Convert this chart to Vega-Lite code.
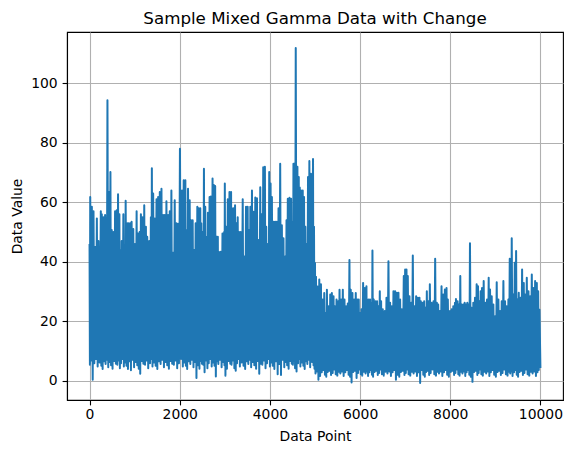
{
  "$schema": "https://vega.github.io/schema/vega-lite/v6.json",
  "width": 496,
  "height": 368,
  "autosize": "none",
  "padding": {"left": 67, "top": 32, "right": 9, "bottom": 54},
  "background": "white",
  "title": {
    "text": "Sample Mixed Gamma Data with Change",
    "font": "DejaVu Sans",
    "fontSize": 16.7,
    "fontWeight": "normal",
    "color": "black",
    "baseline": "alphabetic",
    "offset": 8,
    "dy": 16.5
  },
  "config": {
    "view": {"stroke": "black", "strokeWidth": 1.1},
    "axis": {
      "domainColor": "black",
      "domainWidth": 1.1,
      "tickColor": "black",
      "tickWidth": 1.1,
      "tickSize": 4.9,
      "labelFont": "DejaVu Sans",
      "labelFontSize": 13.9,
      "labelColor": "black",
      "labelPadding": 3,
      "labelFlush": false,
      "labelOverlap": false,
      "titleFont": "DejaVu Sans",
      "titleFontSize": 13.9,
      "titleFontWeight": "normal",
      "titleColor": "black",
      "gridColor": "#b0b0b0",
      "gridWidth": 1.1,
      "gridOpacity": 1
    }
  },
  "data": {
    "values": [
      {"x":0,"y":46},{"x":8,"y":5.4},{"x":15,"y":61.8},{"x":33,"y":6.8},{"x":51,"y":58.5},{"x":70,"y":0.3},{"x":88,"y":57},{"x":106,"y":5.9},{"x":125,"y":45},{"x":143,"y":7.3},
      {"x":162,"y":54.6},{"x":180,"y":4.8},{"x":198,"y":47},{"x":224,"y":6.1},{"x":250,"y":57},{"x":261,"y":5.0},{"x":272,"y":56},{"x":290,"y":3.9},{"x":309,"y":55},{"x":327,"y":6.5},
      {"x":345,"y":55.7},{"x":356,"y":5.6},{"x":368,"y":54.5},{"x":382,"y":7.0},{"x":397,"y":94.3},{"x":415,"y":4.5},{"x":434,"y":63.5},{"x":448,"y":6.3},{"x":463,"y":70.2},{"x":477,"y":5.2},
      {"x":492,"y":50.7},{"x":510,"y":4.0},{"x":529,"y":50},{"x":547,"y":6.6},{"x":566,"y":57},{"x":584,"y":5.7},{"x":603,"y":57.3},{"x":617,"y":5.4},{"x":632,"y":62.7},{"x":647,"y":6.8},
      {"x":662,"y":56},{"x":673,"y":4.2},{"x":684,"y":44},{"x":698,"y":5.9},{"x":713,"y":47},{"x":731,"y":7.3},{"x":750,"y":56},{"x":761,"y":4.8},{"x":772,"y":40.6},{"x":786,"y":6.1},
      {"x":801,"y":60.5},{"x":819,"y":5.0},{"x":838,"y":53},{"x":852,"y":3.9},{"x":867,"y":53},{"x":885,"y":6.5},{"x":904,"y":53},{"x":918,"y":3.5},{"x":933,"y":53.5},{"x":951,"y":7.0},
      {"x":970,"y":51},{"x":988,"y":4.5},{"x":1007,"y":46},{"x":1025,"y":6.3},{"x":1044,"y":57},{"x":1058,"y":5.2},{"x":1073,"y":49.5},{"x":1091,"y":4.0},{"x":1110,"y":50},{"x":1124,"y":2.3},
      {"x":1139,"y":56},{"x":1157,"y":6.6},{"x":1176,"y":55},{"x":1194,"y":5.7},{"x":1213,"y":59},{"x":1231,"y":5.4},{"x":1250,"y":51.8},{"x":1264,"y":6.8},{"x":1279,"y":48.4},{"x":1301,"y":4.2},
      {"x":1323,"y":47},{"x":1341,"y":5.9},{"x":1360,"y":55},{"x":1371,"y":7.3},{"x":1382,"y":71.5},{"x":1396,"y":4.8},{"x":1411,"y":63},{"x":1429,"y":6.1},{"x":1448,"y":54.6},{"x":1466,"y":5.0},
      {"x":1485,"y":61},{"x":1503,"y":3.9},{"x":1521,"y":61.8},{"x":1539,"y":6.5},{"x":1558,"y":63.5},{"x":1576,"y":5.6},{"x":1595,"y":64.6},{"x":1613,"y":7.0},{"x":1632,"y":55.7},{"x":1650,"y":4.5},
      {"x":1668,"y":55.7},{"x":1686,"y":6.3},{"x":1705,"y":60.4},{"x":1723,"y":5.2},{"x":1742,"y":55.7},{"x":1760,"y":4.0},{"x":1779,"y":57},{"x":1797,"y":6.6},{"x":1815,"y":64},{"x":1833,"y":5.7},
      {"x":1852,"y":43},{"x":1870,"y":5.4},{"x":1889,"y":60.7},{"x":1907,"y":6.8},{"x":1926,"y":53},{"x":1944,"y":4.2},{"x":1962,"y":52.8},{"x":1983,"y":5.9},{"x":2005,"y":78},{"x":2028,"y":7.3},
      {"x":2051,"y":64},{"x":2069,"y":4.8},{"x":2088,"y":67.4},{"x":2106,"y":6.1},{"x":2125,"y":67.4},{"x":2136,"y":5.0},{"x":2147,"y":50.7},{"x":2165,"y":3.9},{"x":2184,"y":64.6},{"x":2202,"y":6.5},
      {"x":2221,"y":60.7},{"x":2235,"y":5.6},{"x":2250,"y":54},{"x":2268,"y":7.0},{"x":2287,"y":54},{"x":2305,"y":4.5},{"x":2323,"y":44},{"x":2338,"y":6.3},{"x":2353,"y":53},{"x":2371,"y":0.9},
      {"x":2390,"y":58.5},{"x":2404,"y":5.2},{"x":2419,"y":58},{"x":2437,"y":4.0},{"x":2456,"y":58},{"x":2467,"y":6.6},{"x":2478,"y":53},{"x":2492,"y":5.7},{"x":2507,"y":50},{"x":2522,"y":5.4},
      {"x":2537,"y":71.3},{"x":2551,"y":2.8},{"x":2566,"y":58.5},{"x":2584,"y":6.8},{"x":2603,"y":48.4},{"x":2614,"y":4.2},{"x":2625,"y":56.5},{"x":2643,"y":5.9},{"x":2662,"y":61.8},{"x":2676,"y":7.3},
      {"x":2691,"y":62},{"x":2709,"y":4.8},{"x":2728,"y":68},{"x":2742,"y":6.1},{"x":2757,"y":65.8},{"x":2771,"y":5.0},{"x":2786,"y":65.5},{"x":2801,"y":1.4},{"x":2816,"y":48.4},{"x":2830,"y":6.5},
      {"x":2845,"y":48.4},{"x":2856,"y":5.6},{"x":2867,"y":43.4},{"x":2889,"y":7.0},{"x":2911,"y":43.4},{"x":2929,"y":4.5},{"x":2948,"y":49.5},{"x":2966,"y":6.3},{"x":2985,"y":50},{"x":2992,"y":5.2},
      {"x":3000,"y":66.3},{"x":3014,"y":1.7},{"x":3029,"y":51.8},{"x":3047,"y":4.0},{"x":3066,"y":61},{"x":3084,"y":6.6},{"x":3103,"y":63.5},{"x":3121,"y":5.7},{"x":3139,"y":63.5},{"x":3150,"y":5.4},
      {"x":3161,"y":58},{"x":3179,"y":6.8},{"x":3198,"y":58},{"x":3212,"y":4.2},{"x":3227,"y":59},{"x":3242,"y":3.3},{"x":3257,"y":53},{"x":3271,"y":5.9},{"x":3286,"y":55},{"x":3301,"y":7.3},
      {"x":3316,"y":50},{"x":3334,"y":4.8},{"x":3352,"y":50},{"x":3374,"y":6.1},{"x":3397,"y":61},{"x":3415,"y":5.0},{"x":3433,"y":41.8},{"x":3451,"y":3.9},{"x":3470,"y":58.5},{"x":3488,"y":6.5},
      {"x":3507,"y":58.5},{"x":3521,"y":5.6},{"x":3536,"y":50.7},{"x":3551,"y":7.0},{"x":3566,"y":58.5},{"x":3584,"y":4.5},{"x":3602,"y":64},{"x":3617,"y":6.3},{"x":3632,"y":56.8},{"x":3654,"y":5.2},
      {"x":3676,"y":61.6},{"x":3694,"y":4.0},{"x":3713,"y":61.4},{"x":3727,"y":6.6},{"x":3742,"y":47.3},{"x":3764,"y":2.3},{"x":3786,"y":65.1},{"x":3800,"y":5.7},{"x":3815,"y":56},{"x":3833,"y":5.4},
      {"x":3852,"y":71.8},{"x":3870,"y":6.8},{"x":3889,"y":72},{"x":3903,"y":4.2},{"x":3918,"y":51.8},{"x":3937,"y":5.9},{"x":3956,"y":46},{"x":3970,"y":7.3},{"x":3985,"y":70.2},{"x":4000,"y":4.8},
      {"x":4015,"y":66.3},{"x":4029,"y":6.1},{"x":4044,"y":61.8},{"x":4062,"y":5.0},{"x":4081,"y":53.5},{"x":4099,"y":3.9},{"x":4118,"y":53.5},{"x":4136,"y":6.5},{"x":4154,"y":53.5},{"x":4172,"y":2.2},
      {"x":4191,"y":58},{"x":4209,"y":5.6},{"x":4228,"y":73},{"x":4246,"y":1.9},{"x":4265,"y":52.3},{"x":4283,"y":7.0},{"x":4301,"y":47.9},{"x":4319,"y":4.5},{"x":4338,"y":41.8},{"x":4353,"y":6.3},
      {"x":4368,"y":54},{"x":4382,"y":5.2},{"x":4397,"y":61.2},{"x":4415,"y":4.0},{"x":4434,"y":61.5},{"x":4452,"y":6.6},{"x":4470,"y":61.2},{"x":4485,"y":5.7},{"x":4500,"y":53.5},{"x":4511,"y":5.4},
      {"x":4522,"y":73},{"x":4533,"y":6.8},{"x":4544,"y":73},{"x":4558,"y":4.2},{"x":4573,"y":111.9},{"x":4591,"y":3.1},{"x":4610,"y":72},{"x":4625,"y":5.9},{"x":4640,"y":68.5},{"x":4651,"y":7.3},
      {"x":4662,"y":65},{"x":4676,"y":4.8},{"x":4691,"y":64},{"x":4709,"y":6.1},{"x":4728,"y":64},{"x":4742,"y":5.0},{"x":4757,"y":61.8},{"x":4771,"y":3.9},{"x":4786,"y":51.8},{"x":4801,"y":6.5},
      {"x":4816,"y":46},{"x":4830,"y":5.6},{"x":4845,"y":68.5},{"x":4860,"y":7.0},{"x":4875,"y":73.9},{"x":4893,"y":4.5},{"x":4911,"y":69.6},{"x":4933,"y":6.3},{"x":4956,"y":74.6},{"x":4967,"y":5.2},
      {"x":4978,"y":51.8},{"x":4989,"y":4.0},{"x":5000,"y":39.6},{"x":5011,"y":2.4},{"x":5022,"y":35},{"x":5040,"y":3.1},{"x":5058,"y":31.7},{"x":5076,"y":0.3},{"x":5095,"y":34},{"x":5113,"y":1.6},
      {"x":5132,"y":32.4},{"x":5150,"y":2.8},{"x":5169,"y":27.3},{"x":5187,"y":3.6},{"x":5205,"y":29.5},{"x":5220,"y":2.0},{"x":5235,"y":22.8},{"x":5250,"y":1.3},{"x":5264,"y":30.6},{"x":5282,"y":2.9},
      {"x":5301,"y":25},{"x":5319,"y":3.3},{"x":5338,"y":29},{"x":5356,"y":1.9},{"x":5374,"y":29.5},{"x":5392,"y":2.6},{"x":5411,"y":28.4},{"x":5426,"y":3.8},{"x":5441,"y":25},{"x":5459,"y":2.2},
      {"x":5477,"y":27.3},{"x":5495,"y":1.7},{"x":5514,"y":26.7},{"x":5529,"y":3.0},{"x":5544,"y":30.6},{"x":5562,"y":2.4},{"x":5580,"y":27.3},{"x":5598,"y":3.1},{"x":5617,"y":30.6},{"x":5635,"y":1.6},
      {"x":5654,"y":27.3},{"x":5672,"y":2.8},{"x":5690,"y":25},{"x":5708,"y":3.6},{"x":5727,"y":26},{"x":5745,"y":2.0},{"x":5764,"y":40.6},{"x":5778,"y":1.3},{"x":5793,"y":30.6},{"x":5811,"y":-0.6},
      {"x":5830,"y":29.5},{"x":5848,"y":2.9},{"x":5867,"y":27.3},{"x":5885,"y":3.3},{"x":5904,"y":29.5},{"x":5922,"y":0.9},{"x":5940,"y":27.3},{"x":5955,"y":2.6},{"x":5970,"y":27.3},{"x":5985,"y":3.8},
      {"x":6000,"y":22.8},{"x":6015,"y":2.2},{"x":6030,"y":24},{"x":6048,"y":1.7},{"x":6067,"y":32.9},{"x":6085,"y":3.0},{"x":6104,"y":31.2},{"x":6122,"y":2.4},{"x":6141,"y":31.8},{"x":6152,"y":3.1},
      {"x":6163,"y":27.3},{"x":6177,"y":1.6},{"x":6192,"y":27.3},{"x":6207,"y":2.8},{"x":6222,"y":27.3},{"x":6237,"y":3.6},{"x":6252,"y":26.2},{"x":6263,"y":2.0},{"x":6274,"y":43.8},{"x":6288,"y":1.3},
      {"x":6303,"y":27.3},{"x":6321,"y":2.9},{"x":6340,"y":26.7},{"x":6358,"y":3.3},{"x":6377,"y":26.7},{"x":6392,"y":1.9},{"x":6407,"y":25},{"x":6422,"y":2.6},{"x":6437,"y":30.1},{"x":6451,"y":3.8},
      {"x":6466,"y":26.7},{"x":6484,"y":2.2},{"x":6503,"y":24},{"x":6525,"y":1.7},{"x":6548,"y":23.4},{"x":6566,"y":3.0},{"x":6585,"y":27.9},{"x":6607,"y":2.4},{"x":6629,"y":40.2},{"x":6647,"y":3.1},
      {"x":6666,"y":26.2},{"x":6684,"y":1.6},{"x":6703,"y":25},{"x":6721,"y":2.8},{"x":6740,"y":30.1},{"x":6758,"y":3.6},{"x":6777,"y":30.1},{"x":6795,"y":0.3},{"x":6814,"y":29.6},{"x":6832,"y":2.0},
      {"x":6851,"y":29.6},{"x":6869,"y":1.3},{"x":6888,"y":27.3},{"x":6906,"y":2.9},{"x":6925,"y":24},{"x":6947,"y":3.3},{"x":6969,"y":35.2},{"x":6984,"y":1.9},{"x":6999,"y":37.4},{"x":7014,"y":2.6},
      {"x":7029,"y":37.4},{"x":7043,"y":3.8},{"x":7058,"y":35.2},{"x":7076,"y":2.2},{"x":7095,"y":28.4},{"x":7113,"y":1.7},{"x":7132,"y":26.2},{"x":7150,"y":3.0},{"x":7169,"y":42.1},{"x":7187,"y":2.4},
      {"x":7206,"y":25},{"x":7224,"y":3.1},{"x":7243,"y":28.4},{"x":7261,"y":1.6},{"x":7280,"y":27.9},{"x":7298,"y":2.8},{"x":7317,"y":27.9},{"x":7332,"y":-0.8},{"x":7347,"y":26.7},{"x":7365,"y":3.6},
      {"x":7384,"y":26.2},{"x":7402,"y":2.0},{"x":7421,"y":26.7},{"x":7435,"y":1.3},{"x":7450,"y":24.5},{"x":7465,"y":2.9},{"x":7480,"y":30.1},{"x":7498,"y":3.3},{"x":7517,"y":26.7},{"x":7532,"y":1.9},
      {"x":7547,"y":32.4},{"x":7565,"y":2.6},{"x":7584,"y":26.2},{"x":7606,"y":3.8},{"x":7628,"y":26.7},{"x":7646,"y":2.2},{"x":7665,"y":41},{"x":7683,"y":1.7},{"x":7702,"y":26.2},{"x":7717,"y":3.0},
      {"x":7732,"y":25.6},{"x":7750,"y":2.4},{"x":7769,"y":23.4},{"x":7787,"y":3.1},{"x":7806,"y":31.8},{"x":7824,"y":1.6},{"x":7843,"y":29},{"x":7861,"y":2.8},{"x":7880,"y":30.7},{"x":7898,"y":3.6},
      {"x":7917,"y":31.2},{"x":7931,"y":2.0},{"x":7946,"y":27.3},{"x":7969,"y":1.3},{"x":7993,"y":23.4},{"x":8011,"y":2.9},{"x":8030,"y":24},{"x":8048,"y":3.3},{"x":8067,"y":25},{"x":8085,"y":1.9},
      {"x":8104,"y":26.2},{"x":8115,"y":2.6},{"x":8126,"y":27.5},{"x":8144,"y":3.8},{"x":8163,"y":26.7},{"x":8178,"y":2.2},{"x":8193,"y":25.6},{"x":8207,"y":1.7},{"x":8222,"y":35.2},{"x":8237,"y":3.0},
      {"x":8252,"y":25.6},{"x":8270,"y":2.4},{"x":8289,"y":25.6},{"x":8304,"y":3.1},{"x":8319,"y":26.2},{"x":8333,"y":1.6},{"x":8348,"y":25.6},{"x":8363,"y":2.8},{"x":8378,"y":26.2},{"x":8393,"y":3.6},
      {"x":8408,"y":25.6},{"x":8422,"y":2.0},{"x":8437,"y":46.2},{"x":8455,"y":1.3},{"x":8474,"y":24.5},{"x":8492,"y":-0.4},{"x":8511,"y":26.2},{"x":8529,"y":2.9},{"x":8548,"y":27.9},{"x":8566,"y":3.3},
      {"x":8585,"y":32.4},{"x":8600,"y":1.9},{"x":8615,"y":31.8},{"x":8630,"y":2.6},{"x":8645,"y":26.7},{"x":8659,"y":3.8},{"x":8674,"y":30.1},{"x":8689,"y":2.2},{"x":8704,"y":31.2},{"x":8722,"y":1.7},
      {"x":8741,"y":33.5},{"x":8759,"y":3.0},{"x":8778,"y":26.2},{"x":8796,"y":2.4},{"x":8815,"y":27.3},{"x":8833,"y":3.1},{"x":8852,"y":34.6},{"x":8867,"y":1.6},{"x":8882,"y":30.7},{"x":8900,"y":2.8},
      {"x":8919,"y":28.4},{"x":8937,"y":3.6},{"x":8956,"y":25.6},{"x":8974,"y":2.0},{"x":8993,"y":21.7},{"x":9011,"y":1.3},{"x":9030,"y":33.1},{"x":9048,"y":2.9},{"x":9067,"y":27.3},{"x":9085,"y":3.3},
      {"x":9104,"y":23.4},{"x":9122,"y":1.9},{"x":9141,"y":26.7},{"x":9159,"y":2.6},{"x":9178,"y":33.5},{"x":9196,"y":3.8},{"x":9215,"y":26.7},{"x":9233,"y":2.2},{"x":9252,"y":25},{"x":9270,"y":1.7},
      {"x":9289,"y":27.3},{"x":9304,"y":3.0},{"x":9319,"y":41},{"x":9330,"y":2.4},{"x":9341,"y":40.8},{"x":9352,"y":3.1},{"x":9363,"y":47.9},{"x":9381,"y":1.6},{"x":9400,"y":29},{"x":9415,"y":2.8},
      {"x":9430,"y":39.7},{"x":9445,"y":3.6},{"x":9460,"y":43.6},{"x":9474,"y":2.0},{"x":9489,"y":27.3},{"x":9504,"y":1.3},{"x":9519,"y":29.6},{"x":9537,"y":2.9},{"x":9556,"y":27.9},{"x":9574,"y":3.3},
      {"x":9593,"y":37.4},{"x":9611,"y":1.9},{"x":9630,"y":32.9},{"x":9645,"y":2.6},{"x":9660,"y":29},{"x":9678,"y":3.8},{"x":9697,"y":34.6},{"x":9715,"y":2.2},{"x":9734,"y":30.1},{"x":9752,"y":1.7},
      {"x":9771,"y":28.4},{"x":9789,"y":3.0},{"x":9808,"y":35.7},{"x":9826,"y":2.4},{"x":9845,"y":31.2},{"x":9863,"y":3.1},{"x":9882,"y":33.5},{"x":9900,"y":1.6},{"x":9919,"y":32.9},{"x":9934,"y":2.8},
      {"x":9949,"y":30.1},{"x":9963,"y":3.6},{"x":9978,"y":23.9},{"x":9999,"y":4.3}
    ]
  },
  "mark": {"type": "line", "color": "#1f77b4", "strokeWidth": 2, "strokeJoin": "round"},
  "encoding": {
    "x": {
      "field": "x",
      "type": "quantitative",
      "title": "Data Point",
      "scale": {"domain": [-500, 10500], "nice": false, "zero": false},
      "axis": {"values": [0, 2000, 4000, 6000, 8000, 10000], "format": "d", "titlePadding": 8}
    },
    "y": {
      "field": "y",
      "type": "quantitative",
      "title": "Data Value",
      "scale": {"domain": [-6.5, 117.3], "nice": false, "zero": false},
      "axis": {"values": [0, 20, 40, 60, 80, 100], "format": "d", "labelPadding": 4.9, "titlePadding": 6}
    }
  }
}
